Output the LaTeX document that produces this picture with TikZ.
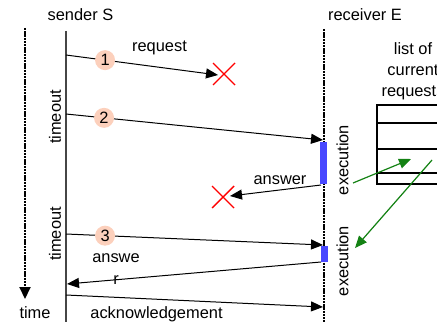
\documentclass[tikz,border=0pt]{standalone}
\usepackage{fontspec}
\setmainfont{Liberation Sans}
\usepackage{xcolor}
\usetikzlibrary{arrows.meta}
\usetikzlibrary{positioning}
\usetikzlibrary{calc}
\definecolor{circColor}{RGB}{252,208,188}
\definecolor{execColor}{RGB}{72,72,255}
\definecolor{linkColor}{RGB}{20,130,20}
\definecolor{lifeColor}{RGB}{70,70,70}

\begin{document}
\begin{tikzpicture}[x=0.5pt,y=-0.5pt,
  msg/.style={draw=black, line width=0.5pt, -{Triangle[length=6pt,width=5pt]}},
  link/.style={draw=linkColor, line width=0.6pt, -{Triangle[length=6pt,width=5pt]}},
  txt/.style={font=\fontsize{8.2}{9.8}\selectfont, inner sep=0pt},
  num/.style={circle, fill=circColor, minimum size=10pt, inner sep=0pt, font=\fontsize{8.2}{9.8}\selectfont},
  execbar/.style={fill=execColor, inner sep=0pt, minimum width=3.5pt},
  lost/.style={red, line width=0.7pt},
  timeline/.style={line width=1pt, dash pattern=on 1.2pt off 0.4pt},
  ]
\newcommand\Cross[1]{+(-#1,-#1) -- +(#1,#1) +(-#1,#1) -- +(#1,-#1)}
\useasboundingbox (0,0) rectangle (437,326);
\clip (0,0) rectangle (437,326);

% time axis and life lines
\coordinate (tTop) at (25,28);
\coordinate (tBot) at (25,299);
\coordinate (sTop) at (66,31);
\coordinate (sBot) at (66,322);
\coordinate (rTop) at (324,29);
\coordinate (rBot) at (324,322);
\draw [timeline, -{Triangle[length=6pt,width=5.5pt]}] (tTop) -- (tBot);
\draw [lifeColor, line width=1pt] (sTop) -- (sBot);
\draw [timeline] (rTop) -- (rBot);

\node [txt] (sender) at (80.5,14.5) {sender S};
\node [txt] (receiver) at (365,14.5) {receiver E};
\node [txt] (time) at (35,313) {time};

% execution on the receiver
\node [execbar, minimum height=21pt] (ex1) at (323.5,163) {};
\node [execbar, minimum height=8pt] (ex2) at (324,254) {};

% messages
\coordinate (m1a) at (66,55);
\coordinate (m1b) at (218,75);
\coordinate (m2a) at (66,114);
\coordinate (m2b) at (323,140);
\coordinate (a1a) at (321,185);
\coordinate (a1b) at (230,196);
\coordinate (m3a) at (66,234);
\coordinate (m3b) at (323,245);
\coordinate (a2a) at (321,262);
\coordinate (a2b) at (67,284);
\coordinate (ackA) at (66,295);
\coordinate (ackB) at (323,307);

\draw [msg] (m1a) -- (m1b);
\draw [msg] (m2a) -- (m2b);
\draw [msg] (a1a) -- (a1b);
\draw [msg] (m3a) -- (m3b);
\draw [msg] (a2a) -- (a2b);
\draw [msg] (ackA) -- (ackB);

\node [num] (n1) at ($(m1a)!0.257!(m1b)$) {1};
\node [num] (n2) at ($(m2a)!0.148!(m2b)$) {2};
\node [num] (n3) at ($(m3a)!0.152!(m3b)$) {3};

\draw [lost] (224,74) \Cross{11};
\draw [lost] (223,197) \Cross{11};

\node [txt] (req) at (159.5,47.5) {request};
\node [txt] (ans1) at (280,180) {answer};
\node [txt, align=center] (ans2) at (116,269) {answe\\[0.8pt]r};
\node [txt] (ack) at (156.5,314.5) {acknowledgement};

\node [txt, rotate=90] (to1) at (55,117) {timeout};
\node [txt, rotate=90] (to2) at (55,234) {timeout};
\node [txt, rotate=90] (exe1) at (342.5,160) {execution};
\node [txt, rotate=90] (exe2) at (342.5,261) {execution};

% list of current requests
\node [txt, align=center] (list) at (413,71) {list of\\[0.6pt]current\\[0.6pt]requests};
\draw [line width=0.9pt] (377,105) rectangle (460,184);
\foreach \y in {123,149,173}
  \draw [line width=0.9pt] (377,\y) -- (460,\y);

\coordinate (row) at (411,159);
\coordinate (rowb) at (432,160);
\coordinate (exeOut) at (353,183);
\coordinate (exeIn) at (355,248);
\draw [link] (exeOut) -- (row);
\draw [link] (rowb) -- (exeIn);
\end{tikzpicture}
\end{document}
